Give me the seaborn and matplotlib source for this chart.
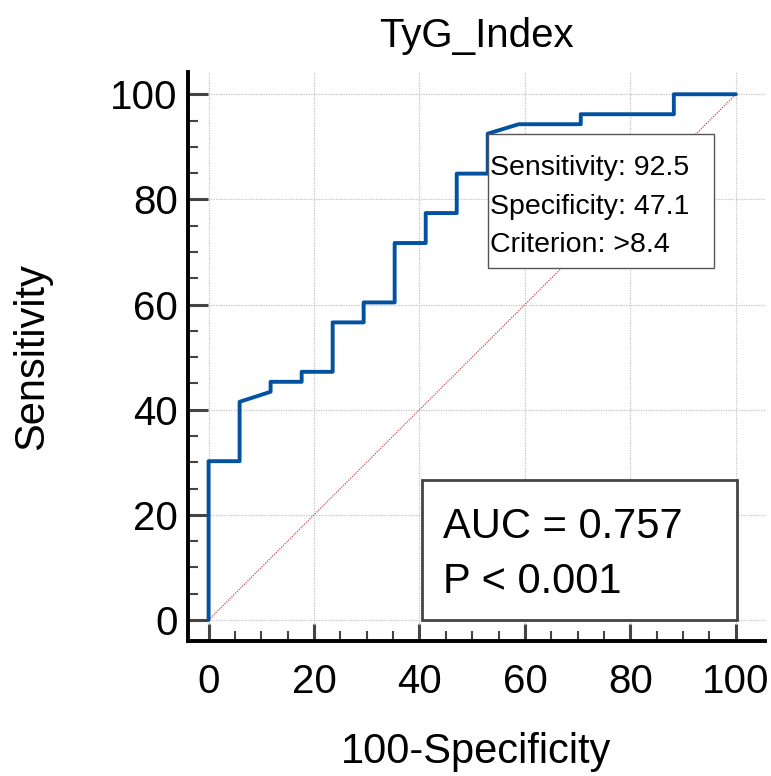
import numpy as np
import pandas as pd
import matplotlib
matplotlib.use("Agg")
import matplotlib.pyplot as plt
from matplotlib.patches import Rectangle
from matplotlib.ticker import FixedLocator
import seaborn as sns

# ROC curve points (100-Specificity, Sensitivity)
fpr = [0, 0, 5.88, 5.88, 11.76, 11.76, 17.65, 17.65, 23.53, 23.53, 29.41, 29.41,
       35.29, 35.29, 41.18, 41.18, 47.06, 47.06, 52.94, 52.94, 58.82, 70.59,
       70.59, 88.24, 88.24, 100]
tpr = [0, 30.2, 30.2, 41.5, 43.4, 45.3, 45.3, 47.2, 47.2, 56.6, 56.6, 60.4,
       60.4, 71.7, 71.7, 77.4, 77.4, 84.9, 84.9, 92.5, 94.3, 94.3,
       96.2, 96.2, 100, 100]
diag = [0, 100]
major_ticks = [0, 20, 40, 60, 80, 100]
title = "TyG_Index"
xlabel = "100-Specificity"
ylabel = "Sensitivity"
cut_sens = 92.5
cut_spec = 47.1
criterion = ">8.4"
auc_text = "AUC = 0.757"
p_text = "P < 0.001"

sns.set_theme(style="white")
plt.rcParams['font.family'] = ['Liberation Sans', 'DejaVu Sans']

fig = plt.figure(figsize=(7.71, 7.76), dpi=100)
ax = fig.add_axes([0.2432, 0.174, 0.992 - 0.2432, 0.907 - 0.174])

df = pd.DataFrame({"fpr": fpr, "tpr": tpr})
ax.plot(diag, diag, color="#c0504d", lw=0.9, ls=(0, (1, 1)), zorder=2)
sns.lineplot(data=df, x="fpr", y="tpr", sort=False, estimator=None,
             color="#0352a0", lw=2.8, ax=ax, zorder=4)

ax.set_xlim(-4, 105.5)
ax.set_ylim(-4, 104.2)

ax.xaxis.set_major_locator(FixedLocator(major_ticks))
ax.yaxis.set_major_locator(FixedLocator(major_ticks))
minor = [v for v in range(0, 101, 5) if v % 20 != 0]
ax.xaxis.set_minor_locator(FixedLocator(minor))
ax.yaxis.set_minor_locator(FixedLocator(minor))

ax.grid(True, which="major", color="#c4c4c4", ls=(0, (1, 1)), lw=0.9, zorder=0)
ax.set_axisbelow(True)

for s in ["top", "right"]:
    ax.spines[s].set_visible(False)
for s in ["left", "bottom"]:
    ax.spines[s].set_color("black")
    ax.spines[s].set_linewidth(2.8)

ax.tick_params(axis="y", which="major", direction="in", length=14.5, width=2.2,
               color="#444444", labelsize=29, pad=7, left=True)
ax.tick_params(axis="y", which="minor", direction="in", length=7.5, width=1.5,
               color="#444444", left=True)
ax.tick_params(axis="x", which="major", direction="in", length=12.5, width=2.2,
               color="#444444", labelsize=29, pad=16, bottom=True)
ax.tick_params(axis="x", which="minor", direction="in", length=7, width=1.5,
               color="#444444", bottom=True)
for lab in ax.get_xticklabels() + ax.get_yticklabels():
    lab.set_color("black")

ax.set_xlabel(xlabel, fontsize=30, color="black", labelpad=22)
ax.set_ylabel(ylabel, fontsize=30, color="black", labelpad=42)
ax.set_title(title, fontsize=29, color="black", pad=18)

# cut-off annotation box anchored at operating point
ax.add_patch(Rectangle((52.94, 66.9), 42.9, 25.6, fill=True, facecolor="white",
                       edgecolor="#555555", lw=1.0, zorder=5))
for yy, txt in [(84.6, f"Sensitivity: {cut_sens}"),
                (77.3, f"Specificity: {cut_spec}"),
                (70.0, f"Criterion: {criterion}")]:
    ax.text(53.3, yy, txt, fontsize=20.5, color="black", ha="left",
            va="baseline", zorder=6)

# AUC box
ax.add_patch(Rectangle((40.5, 0.0), 59.7, 26.6, fill=True, facecolor="white",
                       edgecolor="#444444", lw=2.0, zorder=5))
ax.text(44.5, 15.6, auc_text, fontsize=30, color="black", ha="left",
        va="baseline", zorder=6)
ax.text(44.5, 5.1, p_text, fontsize=30, color="black", ha="left",
        va="baseline", zorder=6)

fig.savefig("out.png", dpi=100)
